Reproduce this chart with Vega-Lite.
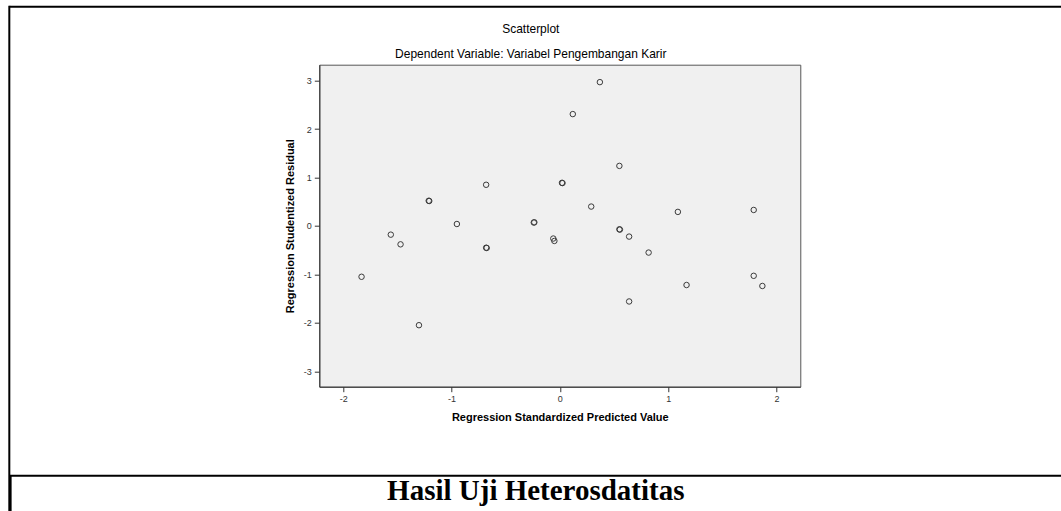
{
  "$schema": "https://vega.github.io/schema/vega-lite/v6.json",
  "background": "white",
  "padding": {"left": 8.3, "top": 5.7, "right": -47.7, "bottom": -2},
  "bounds": "flush",
  "spacing": 0,
  "config": {"font": "Liberation Sans"},
  "hconcat": [
    {
      "width": 0.01,
      "height": 505.3,
      "data": {"values": []},
      "mark": {"type": "text", "text": ""},
      "view": {"stroke": "black", "strokeWidth": 2, "fill": null}
    },
    {
      "bounds": "flush",
      "spacing": 0,
      "center": true,
      "vconcat": [
        {
          "width": 1098.4,
          "height": 0.01,
          "data": {"values": []},
          "mark": {"type": "text", "text": ""},
          "view": {"stroke": "black", "strokeWidth": 2, "fill": null}
        },
        {
          "width": 0.01,
          "height": 56.3,
          "data": {"values": []},
          "mark": {"type": "text", "text": ""},
          "view": {"stroke": null, "fill": null}
        },
        {
          "width": 481,
          "height": 322,
          "title": {
            "text": "Scatterplot",
            "subtitle": "Dependent Variable: Variabel Pengembangan Karir",
            "font": "Liberation Sans",
            "fontSize": 12,
            "fontWeight": "normal",
            "color": "black",
            "subtitleFont": "Liberation Sans",
            "subtitleFontSize": 12,
            "subtitleColor": "black",
            "subtitlePadding": 13,
            "offset": 4,
            "anchor": "middle",
            "dx": -29
          },
          "view": {"fill": "#f0f0f0", "stroke": "#555555", "strokeWidth": 1},
          "data": {
            "values": [
              {"pred": -1.56, "resid": -0.18},
              {"pred": -1.47, "resid": -0.38},
              {"pred": -1.21, "resid": 0.52},
              {"pred": -1.205, "resid": 0.515},
              {"pred": -0.95, "resid": 0.04},
              {"pred": -0.68, "resid": 0.85},
              {"pred": -0.68, "resid": -0.45},
              {"pred": -0.675, "resid": -0.455},
              {"pred": -0.24, "resid": 0.07},
              {"pred": -0.235, "resid": 0.075},
              {"pred": -0.06, "resid": -0.26},
              {"pred": -0.05, "resid": -0.31},
              {"pred": 0.02, "resid": 0.89},
              {"pred": 0.025, "resid": 0.885},
              {"pred": 0.12, "resid": 2.31},
              {"pred": 0.37, "resid": 2.97},
              {"pred": 0.55, "resid": 1.24},
              {"pred": 0.29, "resid": 0.40},
              {"pred": 1.09, "resid": 0.29},
              {"pred": 1.79, "resid": 0.33},
              {"pred": 0.55, "resid": -0.07},
              {"pred": 0.555, "resid": -0.075},
              {"pred": 0.64, "resid": -0.22},
              {"pred": 0.82, "resid": -0.55},
              {"pred": -1.83, "resid": -1.05},
              {"pred": -1.30, "resid": -2.05},
              {"pred": 1.79, "resid": -1.03},
              {"pred": 1.87, "resid": -1.24},
              {"pred": 1.17, "resid": -1.22},
              {"pred": 0.64, "resid": -1.56}
            ]
          },
          "mark": {"type": "point", "shape": "circle", "filled": false, "stroke": "#3a3a3a", "strokeWidth": 1, "size": 30, "opacity": 1},
          "encoding": {
            "x": {
              "field": "pred",
              "type": "quantitative",
              "scale": {"domain": [-2.22, 2.22], "nice": false, "zero": false},
              "axis": {
                "values": [-2, -1, 0, 1, 2],
                "labelExpr": "datum.value < 0 ? '-' + abs(datum.value) : '' + datum.value",
                "title": "Regression Standardized Predicted Value",
                "titleFont": "Liberation Sans",
                "titleFontSize": 11,
                "titleFontWeight": "bold",
                "titleColor": "black",
                "titlePadding": 8,
                "labelFont": "Liberation Sans",
                "labelFontSize": 9,
                "labelColor": "#333333",
                "labelPadding": 3,
                "tickSize": 5,
                "tickColor": "#333333",
                "domainColor": "#333333",
                "grid": false
              }
            },
            "y": {
              "field": "resid",
              "type": "quantitative",
              "scale": {"domain": [-3.32, 3.33], "nice": false, "zero": false},
              "axis": {
                "values": [-3, -2, -1, 0, 1, 2, 3],
                "labelExpr": "datum.value < 0 ? '-' + abs(datum.value) : '' + datum.value",
                "title": "Regression Studentized Residual",
                "titleFont": "Liberation Sans",
                "titleFontSize": 11,
                "titleFontWeight": "bold",
                "titleColor": "black",
                "titlePadding": 8,
                "labelFont": "Liberation Sans",
                "labelFontSize": 9,
                "labelColor": "#333333",
                "labelPadding": 3,
                "tickSize": 5,
                "tickColor": "#333333",
                "domainColor": "#333333",
                "grid": false
              }
            }
          }
        },
        {
          "width": 0.01,
          "height": 88.3,
          "data": {"values": []},
          "mark": {"type": "text", "text": ""},
          "view": {"stroke": null, "fill": null}
        },
        {
          "width": 1098.4,
          "height": 38.7,
          "data": {"values": [{"caption": "Hasil Uji Heterosdatitas"}]},
          "view": {"stroke": "black", "strokeWidth": 2, "fill": null},
          "mark": {"type": "text", "font": "Liberation Serif", "fontWeight": "bold", "fontSize": 29, "color": "black", "baseline": "alphabetic", "align": "center", "dx": -24, "dy": 5.35},
          "encoding": {"text": {"field": "caption"}}
        }
      ]
    }
  ]
}
